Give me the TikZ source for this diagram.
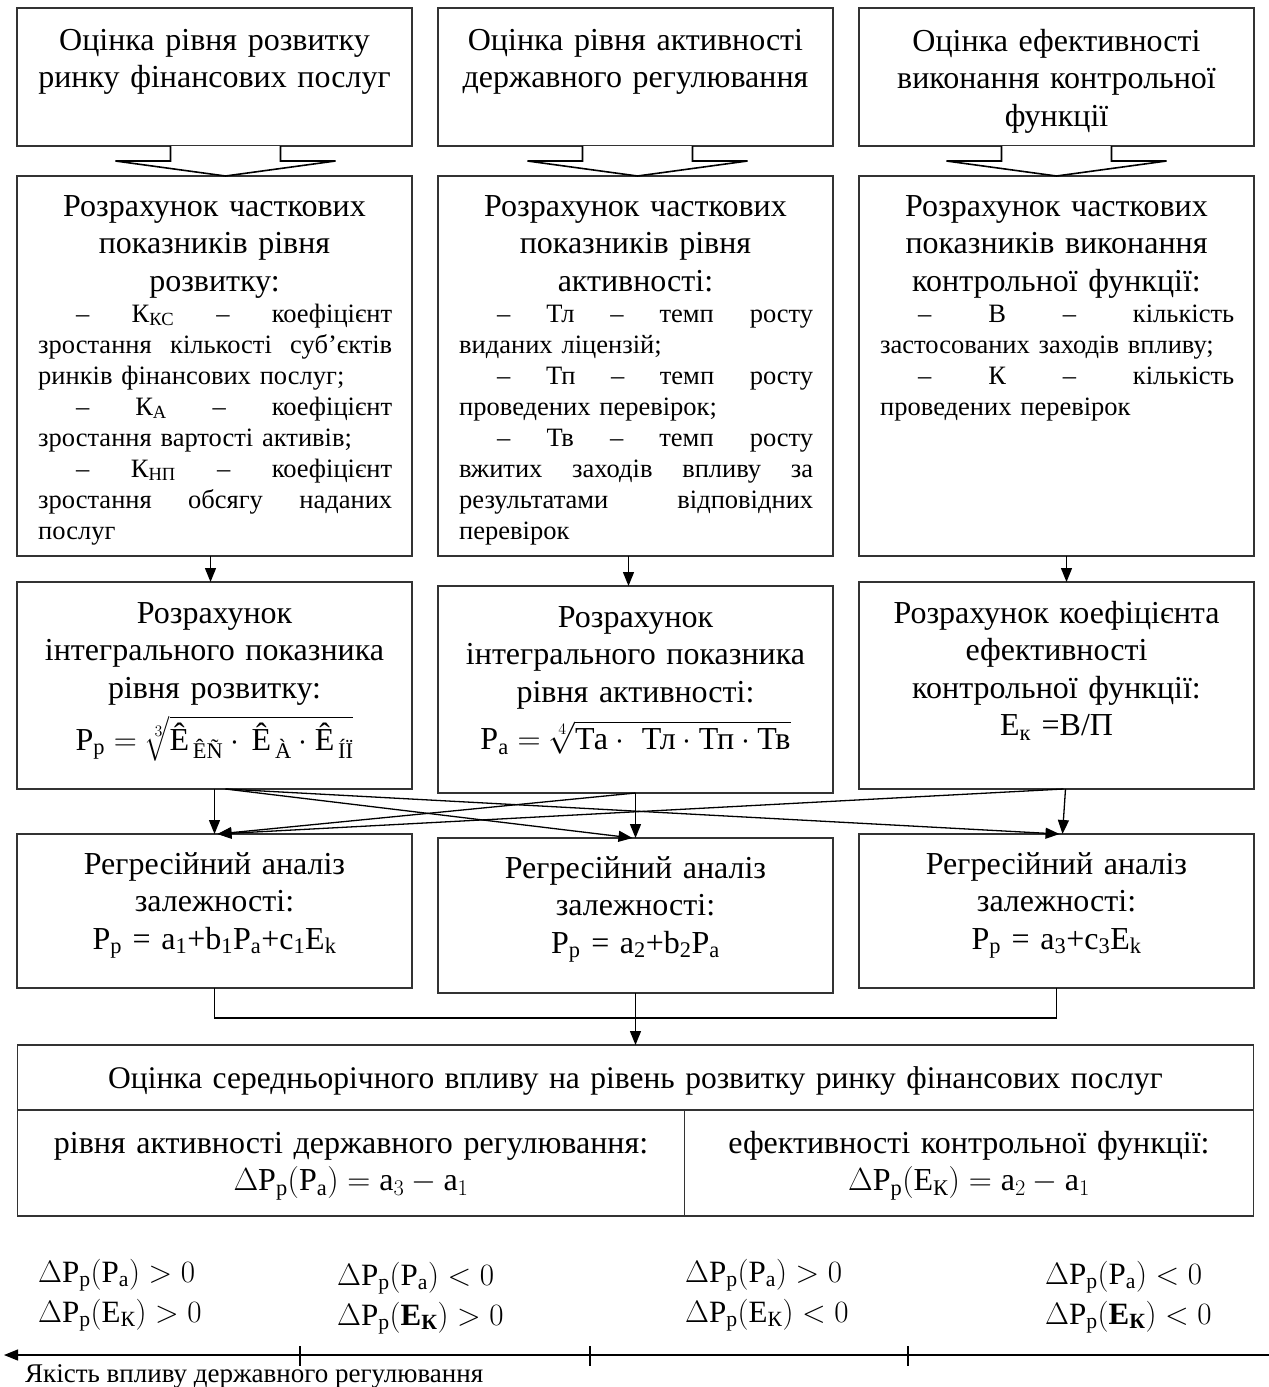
\RequirePackage{fix-cm}
\documentclass[tikz,border=0pt]{standalone}
\usepackage{amsmath}
\usepackage{fontspec}
\setmainfont{Liberation Serif}
\usetikzlibrary{positioning,arrows.meta}
\setlength{\parindent}{0pt}

% full justified line and first-line indent
\newcommand{\jline}[1]{\makebox[354pt][s]{\spaceskip=.25em plus 1fil\relax #1}}
\newcommand{\ind}{\hspace*{38pt}}
\newcommand{\dP}[1]{\Delta\text{P}_{\text{p}}(#1)}
% hollow block arrow between two boxes
\newcommand{\hollowarrow}[3]{%
  \draw[hollow] ([xshift={#3-55pt}]#1.south) -- ++(0,-15) -- ++(-55,0)
    -- ([xshift=#3]#2.north) -- ++(110,15) -- ++(-55,0) -- ([xshift={#3+55pt}]#1.south);}

\begin{document}
\begin{tikzpicture}[x=1pt, y=1pt,
    box/.style={draw=black!80, line width=1.2pt, minimum width=395pt, inner sep=0pt, outer sep=0pt},
    head/.style={inner sep=0pt, align=center, text width=380pt, font=\fontsize{32}{37.5}\selectfont},
    listtxt/.style={inner sep=0pt, align=left, text width=354pt, font=\fontsize{26.5}{31}\selectfont},
    cond/.style={inner sep=0pt, align=left, text width=240pt, font=\fontsize{31}{40}\selectfont},
    hollow/.style={line width=1.6pt, fill=white},
    link/.style={line width=1.3pt, -{Triangle[length=14pt,width=11pt]}}]

  \useasboundingbox (0,0) rectangle (1269,-1387);

  % row 1: estimates
  \node[box, minimum height=138pt, anchor=north west] (estA) at (17,-8) {};
  \node[box, minimum height=138pt, right=26pt of estA] (estB) {};
  \node[box, minimum height=138pt, right=26pt of estB] (estC) {};
  \node[head, anchor=base] (estAt) at ([yshift=-42pt]estA.north) {Оцінка рівня розвитку\\ринку фінансових послуг};
  \node[head, anchor=base] (estBt) at ([yshift=-42pt]estB.north) {Оцінка рівня активності\\державного регулювання};
  \node[head, anchor=base] (estCt) at ([yshift=-43pt]estC.north) {Оцінка ефективності\\виконання контрольної\\функції};

  % row 2: partial indicators
  \node[box, minimum height=380pt, below=30pt of estA] (calcA) {};
  \node[box, minimum height=380pt, below=30pt of estB] (calcB) {};
  \node[box, minimum height=380pt, below=30pt of estC] (calcC) {};
  \node[head, anchor=base] (calcAh) at ([yshift=-40pt]calcA.north) {Розрахунок часткових\\показників рівня\\розвитку:};
  \node[head, anchor=base] (calcBh) at ([yshift=-40pt]calcB.north) {Розрахунок часткових\\показників рівня\\активності:};
  \node[head, anchor=base] (calcCh) at ([yshift=-40pt]calcC.north) {Розрахунок часткових\\показників виконання\\контрольної функції:};
  \node[listtxt, anchor=base west] (calcAl) at ([xshift=21pt, yshift=-146pt]calcA.north west) {%
    \jline{\ind– К\textsubscript{КС} – коефіцієнт}\\
    \jline{зростання кількості суб’єктів}\\
    ринків фінансових послуг;\\
    \jline{\ind– К\textsubscript{А} – коефіцієнт}\\
    зростання вартості активів;\\
    \jline{\ind– К\textsubscript{НП} – коефіцієнт}\\
    \jline{зростання обсягу наданих}\\
    послуг};
  \node[listtxt, anchor=base west] (calcBl) at ([xshift=21pt, yshift=-146pt]calcB.north west) {%
    \jline{\ind– Тл – темп росту}\\
    виданих ліцензій;\\
    \jline{\ind– Тп – темп росту}\\
    проведених перевірок;\\
    \jline{\ind– Тв – темп росту}\\
    \jline{вжитих заходів впливу за}\\
    \jline{результатами відповідних}\\
    перевірок};
  \node[listtxt, anchor=base west] (calcCl) at ([xshift=21pt, yshift=-146pt]calcC.north west) {%
    \jline{\ind– В – кількість}\\
    застосованих заходів впливу;\\
    \jline{\ind– К – кількість}\\
    проведених перевірок};

  % row 3: integral indicators
  \node[box, minimum height=207pt, below=26pt of calcA] (intA) {};
  \node[box, minimum height=207pt, below=30pt of calcB] (intB) {};
  \node[box, minimum height=207pt, below=26pt of calcC] (intC) {};
  \node[head, anchor=base] (intAt) at ([yshift=-41pt]intA.north) {Розрахунок\\інтегрального показника\\рівня розвитку:\\[10pt]
    \mbox{$\text{P}_{\text{p}} = \sqrt[3]{\text{Ê}_{\,\text{ÊÑ}}\cdot\,\text{Ê}_{\,\text{À}}\cdot\text{Ê}_{\,\text{ÍÏ}}}$}};
  \node[head, anchor=base] (intBt) at ([yshift=-41pt]intB.north) {Розрахунок\\інтегрального показника\\рівня активності:\\[10pt]
    \mbox{$\text{P}_{\text{a}} = \sqrt[4]{\text{Та}\cdot\ \text{Тл}\cdot\text{Тп}\cdot\text{Тв}}$}};
  \node[head, anchor=base] (intCt) at ([yshift=-41pt]intC.north) {Розрахунок коефіцієнта\\ефективності\\контрольної функції:\\
    E\textsubscript{к} =В/П};

  % row 4: regression
  \node[box, minimum height=154pt, below=45pt of intA] (regA) {};
  \node[box, minimum height=155pt, below=45pt of intB] (regB) {};
  \node[box, minimum height=154pt, below=45pt of intC] (regC) {};
  \node[head, anchor=base] (regAt) at ([yshift=-40pt]regA.north) {Регресійний аналіз\\залежності:\\
    P\textsubscript{p} = a\textsubscript{1}+b\textsubscript{1}P\textsubscript{a}+c\textsubscript{1}E\textsubscript{k}};
  \node[head, anchor=base] (regBt) at ([yshift=-40pt]regB.north) {Регресійний аналіз\\залежності:\\
    P\textsubscript{p} = a\textsubscript{2}+b\textsubscript{2}P\textsubscript{a}};
  \node[head, anchor=base] (regCt) at ([yshift=-40pt]regC.north) {Регресійний аналіз\\залежності:\\
    P\textsubscript{p} = a\textsubscript{3}+c\textsubscript{3}E\textsubscript{k}};

  % summary
  \node[box, minimum width=1236pt, minimum height=65pt, below=52pt of regB] (summary) {};
  \node[head, text width=1200pt, anchor=base, font=\fontsize{31.5}{37.5}\selectfont] (summaryt) at ([yshift=-43pt]summary.north) {Оцінка середньорічного впливу на рівень розвитку ринку фінансових послуг};
  \node[box, minimum width=667pt, minimum height=106pt, anchor=north west] (cellA) at (summary.south west) {};
  \node[box, minimum width=569pt, minimum height=106pt, right=0pt of cellA] (cellB) {};
  \node[head, text width=640pt, anchor=base] (cellAt) at ([yshift=-43pt]cellA.north) {рівня активності державного регулювання:\\
    \mbox{$\dP{\text{P}_{\text{a}}} = \text{a}_3 - \text{a}_1$}};
  \node[head, text width=540pt, anchor=base] (cellBt) at ([yshift=-43pt]cellB.north) {ефективності контрольної функції:\\
    \mbox{$\dP{\text{E}_{\text{К}}} = \text{a}_2 - \text{a}_1$}};

  % connectors
  \hollowarrow{estA}{calcA}{11pt}
  \hollowarrow{estB}{calcB}{2pt}
  \hollowarrow{estC}{calcC}{0pt}
  \draw[link] ([xshift=-4pt]calcA.south) -- ([xshift=-4pt]intA.north);
  \draw[link] ([xshift=-7pt]calcB.south) -- ([xshift=-7pt]intB.north);
  \draw[link] ([xshift=10pt]calcC.south) -- ([xshift=10pt]intC.north);
  \draw[link] (intA.south) -- (regA.north);
  \draw[link] ([xshift=11pt]intA.south) -- ([xshift=-3pt]regB.north);
  \draw[link] ([xshift=11pt]intA.south) -- ([xshift=3pt]regC.north);
  \draw[link] (intB.south) -- ([xshift=3pt]regA.north);
  \draw[link] (intB.south) -- (regB.north);
  \draw[link] ([xshift=7pt]intC.south) -- ([xshift=3pt]regA.north);
  \draw[link] ([xshift=9pt]intC.south) -- ([xshift=6pt]regC.north);
  \coordinate[below=30pt of regA] (mergeL);
  \draw[line width=1.5pt] (regA.south) -- (mergeL) -| (regC.south);
  \draw[link] (regB.south) -- (summary.north);

  % quality axis
  \node[cond, anchor=base west] (condA) at (38,-1282) {$\dP{\text{P}_{\text{a}}} > 0$\\$\dP{\text{E}_{\text{К}}} > 0$};
  \node[cond, anchor=base west] (condB) at (337,-1285) {$\dP{\text{P}_{\text{a}}} < 0$\\$\dP{\textbf{E}_{\textbf{К}}} > 0$};
  \node[cond, anchor=base west] (condC) at (685,-1282) {$\dP{\text{P}_{\text{a}}} > 0$\\$\dP{\text{E}_{\text{К}}} < 0$};
  \node[cond, anchor=base west] (condD) at (1045,-1284) {$\dP{\text{P}_{\text{a}}} < 0$\\$\dP{\textbf{E}_{\textbf{К}}} < 0$};
  \coordinate (axisR) at (1269,-1355);
  \coordinate (axisL) at (4,-1355);
  \draw[link] (axisR) -- (axisL);
  \foreach \tx in {300,590,908}
    \draw[line width=1.2pt] (\tx,-1346) -- (\tx,-1366);
  \node[anchor=base west, inner sep=0pt, font=\fontsize{27}{31}\selectfont] (quality) at (25,-1382) {Якість впливу державного регулювання};
\end{tikzpicture}
\end{document}
